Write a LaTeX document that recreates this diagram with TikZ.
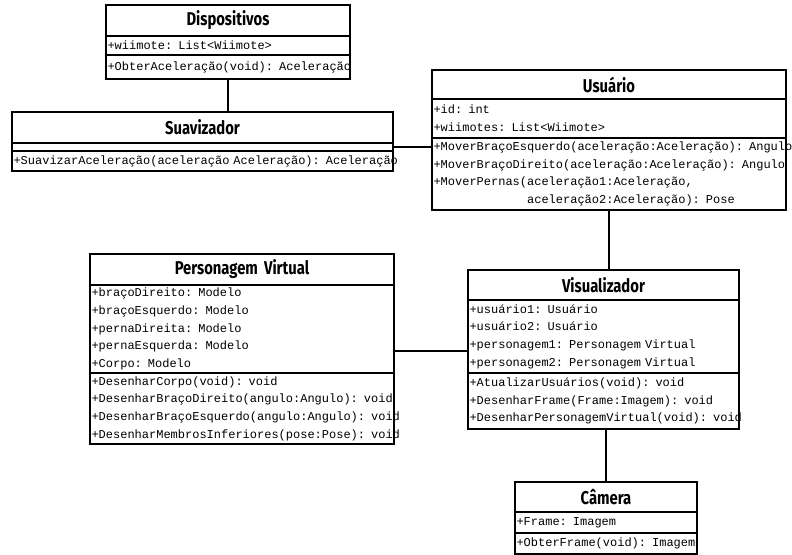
\documentclass[tikz,border=0pt]{standalone}
\usepackage{fontspec}
\newfontfamily\umlmonofont[WordSpace={1,0,0},PunctuationSpace=WordSpace]{Liberation Mono}
\newfontfamily\umlheadfont[FakeStretch=0.8]{Fira Sans}
\newcommand\umlline[1]{\mbox{#1}}
\tikzset{
  umlbox/.style={draw, line width=1.5bp, anchor=north west, inner sep=0pt, outer sep=0pt},
  umlhead/.style={umlbox, font=\umlheadfont\bfseries\fontsize{18.5bp}{21bp}\selectfont, align=center},
  umlcomp/.style={umlbox, font=\umlmonofont\fontsize{12bp}{17.7bp}\selectfont, align=left, inner xsep=1.5bp},
  assoc/.style={line width=1.5bp}
}
\begin{document}
\begin{tikzpicture}[x=1bp,y=-1bp]
\useasboundingbox (0,0) rectangle (792,555);
% Dispositivos
\node[umlhead, minimum width=244bp, text width=244bp, minimum height=31bp] (dtitle) at (106,5) {Dispositivos};
\node[umlcomp, minimum width=244bp, text width=241bp, minimum height=19bp] (dattr) at (106,36) {\umlline{+wiimote: List<Wiimote>}};
\node[umlcomp, minimum width=244bp, text width=241bp, minimum height=24bp] (dmeth) at (106,55) {\umlline{+ObterAceleração(void): Aceleração}};
% Suavizador
\node[umlhead, minimum width=381bp, text width=381bp, minimum height=31bp] (stitle) at (12,112) {Suavizador};
\node[umlcomp, minimum width=381bp, text width=378bp, minimum height=8bp] (sattr) at (12,143) {};
\node[umlcomp, minimum width=381bp, text width=378bp, minimum height=20bp] (smeth) at (12,151) {\umlline{+SuavizarAceleração(aceleração Aceleração): Aceleração}};
% Usuario
\node[umlhead, minimum width=354bp, text width=354bp, minimum height=29bp] (utitle) at (432,70) {Usuário};
\node[umlcomp, minimum width=354bp, text width=351bp, minimum height=39bp] (uattr) at (432,99) {\umlline{+id: int}\\\umlline{+wiimotes: List<Wiimote>}};
\node[umlcomp, minimum width=354bp, text width=351bp, minimum height=72bp] (umeth) at (432,138) {\umlline{+MoverBraçoEsquerdo(aceleração:Aceleração): Angulo}\\\umlline{+MoverBraçoDireito(aceleração:Aceleração): Angulo}\\\umlline{+MoverPernas(aceleração1:Aceleração,}\\\umlline{\phantom{+MoverPernas(}aceleração2:Aceleração): Pose}};
% Personagem Virtual
\node[umlhead, minimum width=304bp, text width=304bp, minimum height=31bp] (ptitle) at (90,254) {Personagem Virtual};
\node[umlcomp, minimum width=304bp, text width=301bp, minimum height=88bp] (pattr) at (90,285) {\umlline{+braçoDireito: Modelo}\\\umlline{+braçoEsquerdo: Modelo}\\\umlline{+pernaDireita: Modelo}\\\umlline{+pernaEsquerda: Modelo}\\\umlline{+Corpo: Modelo}};
\node[umlcomp, minimum width=304bp, text width=301bp, minimum height=71bp] (pmeth) at (90,373) {\umlline{+DesenharCorpo(void): void}\\\umlline{+DesenharBraçoDireito(angulo:Angulo): void}\\\umlline{+DesenharBraçoEsquerdo(angulo:Angulo): void}\\\umlline{+DesenharMembrosInferiores(pose:Pose): void}};
% Visualizador
\node[umlhead, minimum width=271bp, text width=271bp, minimum height=30bp] (vtitle) at (468,270) {Visualizador};
\node[umlcomp, minimum width=271bp, text width=268bp, minimum height=73bp] (vattr) at (468,300) {\umlline{+usuário1: Usuário}\\\umlline{+usuário2: Usuário}\\\umlline{+personagem1: Personagem Virtual}\\\umlline{+personagem2: Personagem Virtual}};
\node[umlcomp, minimum width=271bp, text width=268bp, minimum height=56bp] (vmeth) at (468,373) {\umlline{+AtualizarUsuários(void): void}\\\umlline{+DesenharFrame(Frame:Imagem): void}\\\umlline{+DesenharPersonagemVirtual(void): void}};
% Camera
\node[umlhead, minimum width=182bp, text width=182bp, minimum height=30bp] (ctitle) at (515,482) {Câmera};
\node[umlcomp, minimum width=182bp, text width=179bp, minimum height=21bp] (cattr) at (515,512) {\umlline{+Frame: Imagem}};
\node[umlcomp, minimum width=182bp, text width=179bp, minimum height=21bp] (cmeth) at (515,533) {\umlline{+ObterFrame(void): Imagem}};
% connectors
\draw[assoc] (dmeth.south) -- (dmeth.south |- stitle.north);
\draw[assoc] (sattr.east) -- (sattr.east -| umeth.west);
\draw[assoc] (umeth.south) -- (umeth.south |- vtitle.north);
\draw[assoc] (pattr.east |- 0,351) -- (vattr.west |- 0,351);
\draw[assoc] (ctitle.north) -- (ctitle.north |- vmeth.south);
\end{tikzpicture}
\end{document}
